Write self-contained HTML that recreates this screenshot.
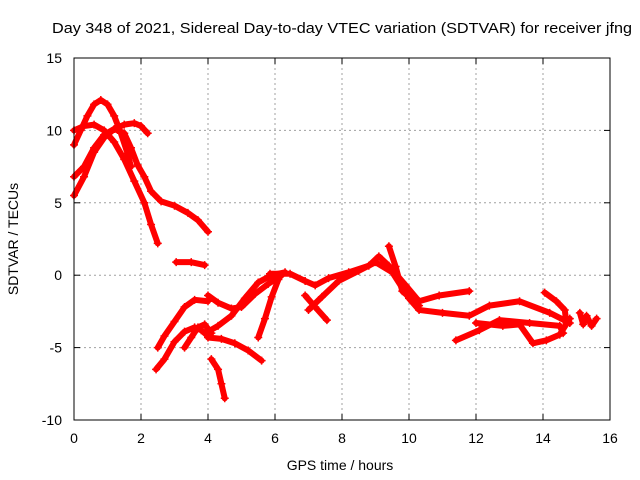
<!DOCTYPE html>
<html><head><meta charset="utf-8"><style>
html,body{margin:0;padding:0;background:#fff;}
svg{display:block;font-family:"Liberation Sans",Arial,sans-serif;}
</style></head><body>
<svg id="chart" width="640" height="480" viewBox="0 0 640 480">
<text x="52" y="33" font-size="15" textLength="580" lengthAdjust="spacingAndGlyphs">Day 348 of 2021, Sidereal Day-to-day VTEC variation (SDTVAR) for receiver jfng</text>
<text x="340" y="470" font-size="14" text-anchor="middle">GPS time / hours</text>
<text transform="translate(18,239) rotate(-90)" font-size="14" text-anchor="middle">SDTVAR / TECUs</text>
<g id="grid"></g><g id="ticks"></g><g id="series"></g>
<rect x="74" y="58" width="536" height="362" fill="none" stroke="#000" stroke-width="1"/>
</svg>
<script>
const xTicks=[0,2,4,6,8,10,12,14,16];
const yTicks=[-10,-5,0,5,10,15];
const trackA=[[0,9],[0.2,10],[0.4,11],[0.6,11.8],[0.8,12.1],[1,11.8],[1.2,11],[1.4,9.8],[1.6,8.4],[1.7,7.5]];
const trackB=[[0,10],[0.3,10.3],[0.6,10.4],[0.9,10],[1.2,9.2],[1.5,8],[1.8,6.5],[2.1,5],[2.3,3.5],[2.5,2.2]];
const trackC=[[0,5.5],[0.3,6.8],[0.6,8.5],[0.9,9.5],[1.2,10.1],[1.5,10.4],[1.8,10.5],[2.0,10.3],[2.2,9.8]];
const trackD=[[0,6.8],[0.3,7.5],[0.6,8.8],[0.9,9.7],[1.2,10.1],[1.5,9.8],[1.7,8.8],[1.9,7.6],[2.1,6.8],[2.3,5.8],[2.6,5.1],[3.0,4.8],[3.4,4.3],[3.7,3.8],[4.0,3.0]];
const trackS=[[3.05,0.9],[3.5,0.9],[3.9,0.7]];
const trackE=[[2.45,-6.5],[2.7,-5.8],[3.0,-4.6],[3.3,-3.9],[3.6,-3.6],[3.8,-3.8],[4.0,-4.2]];
const trackF=[[2.5,-5],[2.7,-4.2],[3.0,-3.2],[3.3,-2.2],[3.6,-1.7],[4.0,-1.8]];
const trackG=[[3.3,-5.0],[3.5,-4.3],[3.7,-3.6],[3.9,-3.4],[4.1,-4.0]];
const trackH=[[4.0,-1.4],[4.3,-1.9],[4.7,-2.3],[5.0,-2.2],[5.4,-1.3],[5.8,-0.6],[6.2,0]];
const trackI=[[4.0,-3.9],[4.3,-3.5],[4.7,-2.8],[5.1,-1.6],[5.5,-0.5],[5.9,0],[6.3,0.2]];
const trackJ=[[4.0,-4.3],[4.4,-4.4],[4.8,-4.7],[5.2,-5.2],[5.6,-5.9]];
const trackK=[[4.1,-5.8],[4.3,-6.5],[4.4,-7.5],[4.5,-8.5]];
const trackL=[[5.5,-4.3],[5.7,-3.0],[5.9,-1.5],[6.1,-0.3]];
const trackM=[[5.85,0.1],[6.45,0.1],[6.9,-0.4],[7.2,-0.7],[7.6,-0.2],[8.2,0.2],[8.8,0.65],[9.1,1.3],[9.4,0.65],[9.9,-0.7],[10.3,-1.8],[10.9,-1.4],[11.8,-1.1]];
const trackN=[[9.4,2],[9.6,0.6],[9.8,-1.1],[10.3,-2.1]];
const trackO=[[6.9,-1.4],[7.2,-2.2],[7.55,-3.1]];
const trackP=[[7.0,-2.4],[7.4,-1.5],[7.9,-0.4],[8.5,0.3],[9.0,0.9],[9.5,0.2],[10.0,-1.6],[10.3,-2.4],[11.0,-2.6],[11.8,-2.8],[12.4,-2.1],[13.3,-1.8],[14.2,-2.6],[14.8,-3.3]];
const trackQ=[[11.4,-4.5],[12.1,-3.8],[12.7,-3.1],[13.6,-3.3],[14.5,-3.5],[14.6,-4.0]];
const trackR=[[12.0,-3.3],[12.8,-3.5],[13.3,-3.4],[13.7,-4.7],[14.1,-4.5],[14.5,-4.1],[14.8,-3.0]];
const trackT=[[14.05,-1.2],[14.4,-1.8],[14.65,-2.4],[14.7,-3.3]];
const trackU=[[15.1,-2.6],[15.2,-3.4],[15.3,-2.8],[15.45,-3.5],[15.6,-3.0]];
const tracks=[trackA,trackB,trackC,trackD,trackS,trackE,trackF,trackG,trackH,trackI,trackJ,trackK,trackL,trackM,trackN,trackO,trackP,trackQ,trackR,trackT,trackU];

const X0=74,X1=610,Y0=420,Y1=58,xmin=0,xmax=16,ymin=-10,ymax=15;
function sx(v){return X0+(v-xmin)/(xmax-xmin)*(X1-X0);}
function sy(v){return Y0-(v-ymin)/(ymax-ymin)*(Y0-Y1);}
const NS="http://www.w3.org/2000/svg";
function mk(tag,attrs,parent){const e=document.createElementNS(NS,tag);for(const k in attrs)e.setAttribute(k,attrs[k]);parent.appendChild(e);return e;}
const grid=document.getElementById('grid'),ticks=document.getElementById('ticks'),ser=document.getElementById('series');
xTicks.forEach(t=>{const x=sx(t);
 if(t>xmin&&t<xmax){const g=mk('line',{x1:x,x2:x,y1:Y1,y2:Y0,stroke:'#a0a0a0','stroke-dasharray':'2,3'},grid);
 
 }
 mk('line',{x1:x,x2:x,y1:Y0,y2:Y0-6,stroke:'#000'},ticks);
 mk('line',{x1:x,x2:x,y1:Y1,y2:Y1+6,stroke:'#000'},ticks);
 const l=mk('text',{x:x,y:443,'font-size':14,'text-anchor':'middle'},ticks);l.textContent=t;
 
 
});
yTicks.forEach(t=>{const y=sy(t);
 if(t>ymin&&t<ymax){const g=mk('line',{x1:X0,x2:X1,y1:y,y2:y,stroke:'#a0a0a0','stroke-dasharray':'2,3'},grid);
 
 }
 mk('line',{x1:X0,x2:X0+6,y1:y,y2:y,stroke:'#000'},ticks);
 mk('line',{x1:X1,x2:X1-6,y1:y,y2:y,stroke:'#000'},ticks);
 const l=mk('text',{x:62,y:y+5,'font-size':14,'text-anchor':'end'},ticks);l.textContent=t;
 
 
});
tracks.forEach((tr,i)=>{
 const p=mk('polyline',{points:tr.map(d=>sx(d[0])+','+sy(d[1])).join(' '),fill:'none',stroke:'#ff0000','stroke-width':6,'stroke-linejoin':'round','stroke-linecap':'round'},ser);
 
 
 tr.forEach(d=>{const x=sx(d[0]),y=sy(d[1]);
  const m=mk('path',{d:`M${x-4},${y}H${x+4}M${x},${y-4}V${y+4}`,stroke:'#ff0000','stroke-width':1.5},ser);
  
  
 });
});
</script>
</body></html>
